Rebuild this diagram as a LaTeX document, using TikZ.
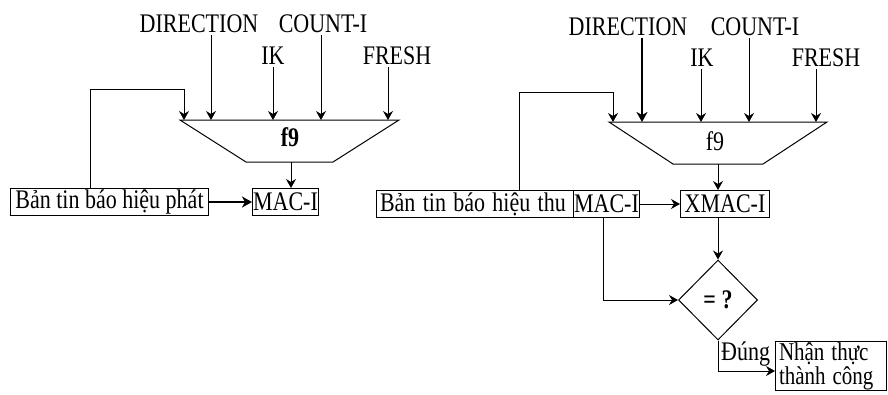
\documentclass[tikz,border=0pt]{standalone}
\usepackage{fontspec}
\usepackage{graphicx}
\setmainfont{Liberation Serif}
\usetikzlibrary{shapes.geometric,arrows.meta,calc}
\newcommand{\stt}[1]{\scalebox{1}[1.22]{#1}}
\begin{document}
\begin{tikzpicture}[x=1pt,y=-1pt,
  every node/.style={font=\fontsize{22}{28}\selectfont, inner sep=0pt},
  box/.style={draw, line width=1pt, minimum height=27pt, inner xsep=0pt, anchor=north west},
  conn/.style={line width=1pt},
  arr/.style={line width=1pt, -{Stealth[length=9pt,width=10pt,inset=3pt]}},
  bigarr/.style={line width=2.5pt, -{Stealth[length=10pt,width=11pt,inset=3pt]}}
]
\useasboundingbox (0,0) rectangle (888,394);

% ---------- left diagram ----------
\node (dirL) at (199,24) {\stt{DIRECTION}};
\node (cntL) at (323,24) {\stt{COUNT-I}};
\node (ikL) at (273,56) {\stt{IK}};
\node (frL) at (397,56) {\stt{FRESH}};

\coordinate (tlL) at (180,120);
\coordinate (trL) at (399,120);
\coordinate (brL) at (333,162);
\coordinate (blL) at (246,162);
\draw[conn] (tlL) -- (trL) -- (brL) -- (blL) -- cycle;
\node[font=\fontsize{22}{27}\selectfont\bfseries] (f9L) at (290,137) {\stt{f9}};

\coordinate (iL0) at (184,120);
\coordinate (iL1) at (211,120);
\coordinate (iL2) at (273,120);
\coordinate (iL3) at (321,120);
\coordinate (iL4) at (388,120);
\coordinate (oL) at (291,162);

\draw[arr] ([yshift=-2pt]dirL.south -| iL1) -- (iL1);
\draw[arr] ([yshift=-2pt]ikL.south -| iL2) -- (iL2);
\draw[arr] ([yshift=-2pt]cntL.south -| iL3) -- (iL3);
\draw[arr] ([yshift=-2pt]frL.south -| iL4) -- (iL4);

\node[box, minimum width=198pt] (msgL) at (10,188) {\stt{Bản tin báo hiệu phát}};
\node[box, minimum width=66pt] (macL) at (252,188) {\stt{MAC-I}};

\coordinate (lpL) at (90,89);
\draw[arr] (msgL.north -| lpL) -- (lpL) -| (iL0);
\draw[arr] (oL) -- (oL |- macL.north);
\draw[bigarr] (msgL.east) -- (macL.west);

% ---------- right diagram ----------
\node (dirR) at (628,27) {\stt{DIRECTION}};
\node (cntR) at (755,27) {\stt{COUNT-I}};
\node (ikR) at (702,58) {\stt{IK}};
\node (frR) at (826,58) {\stt{FRESH}};

\coordinate (tlR) at (609,122);
\coordinate (trR) at (827,122);
\coordinate (brR) at (763,164);
\coordinate (blR) at (673,164);
\draw[conn] (tlR) -- (trR) -- (brR) -- (blR) -- cycle;
\node (f9R) at (715,141) {\stt{f9}};

\coordinate (iR0) at (613,122);
\coordinate (iR1) at (642,122);
\coordinate (iR2) at (701,122);
\coordinate (iR3) at (749,122);
\coordinate (iR4) at (816,122);
\coordinate (oR) at (718,164);

\draw[bigarr] ([yshift=-2pt]dirR.south -| iR1) -- (iR1);
\draw[arr] ([yshift=-2pt]ikR.south -| iR2) -- (iR2);
\draw[arr] ([yshift=-2pt]cntR.south -| iR3) -- (iR3);
\draw[arr] ([yshift=-2pt]frR.south -| iR4) -- (iR4);

\node[box, minimum width=197pt, text width=190pt, inner xsep=3.5pt, align=left] (msgR) at (376,190) {\stt{Bản tin báo hiệu thu}};
\node[box, minimum width=66pt] (macR) at (573,190) {\stt{MAC-I}};
\node[box, minimum width=89pt] (xmac) at (680,190) {\stt{XMAC-I}};

\coordinate (lpR) at (519,92);
\draw[arr] (msgR.north -| lpR) -- (lpR) -| (iR0);
\draw[arr] (oR) -- (oR |- xmac.north);
\draw[arr] (macR.east) -- (xmac.west);

\node[draw, line width=1pt, diamond, minimum width=79pt, minimum height=80pt,
      font=\fontsize{22}{27}\selectfont\bfseries] (dia) at (718,300) {\stt{= ?}};
\draw[arr] (dia.north |- xmac.south) -- (dia.north);
\coordinate (mdown) at (603,217);
\draw[arr] (mdown) |- (dia.west);

\node[draw, line width=1pt, anchor=north west, minimum width=111pt, minimum height=49pt,
      text width=104pt, inner xsep=3.5pt, inner ysep=1pt, align=left,
      font=\fontsize{21}{24}\selectfont] (ok) at (775,341) {\stt{Nhận thực}\\\stt{thành công}};
\node[anchor=west] (dung) at (721,354) {\stt{Đúng}};
\coordinate (okin) at (775,371);
\draw[arr] (dia.south) |- (okin);
\end{tikzpicture}
\end{document}
